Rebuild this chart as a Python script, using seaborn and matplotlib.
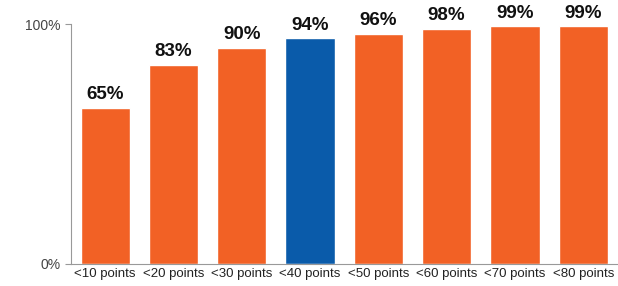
import matplotlib
matplotlib.use("Agg")
import matplotlib.pyplot as plt
import numpy as np
import pandas as pd
import seaborn as sns

categories = ["<10 points", "<20 points", "<30 points", "<40 points",
              "<50 points", "<60 points", "<70 points", "<80 points"]
shares = [65, 83, 90, 94, 96, 98, 99, 99]
highlight = "<40 points"

ORANGE = "#F26125"
BLUE = "#0A5BAA"

sns.set_theme(style="white")
plt.rcParams["font.family"] = ["Liberation Sans", "DejaVu Sans"]

df = pd.DataFrame({"category": categories, "share": shares})
palette = {c: (BLUE if c == highlight else ORANGE) for c in categories}

fig = plt.figure(figsize=(6.18, 2.86), dpi=100)
ax = fig.add_axes([0.115, 0.077, 0.884, 0.839])

sns.barplot(data=df, x="category", y="share", hue="category",
            palette=palette, width=0.72, saturation=1, legend=False, ax=ax)

# value labels above each bar
for i, v in enumerate(shares):
    ax.text(i, v + 5.5, f"{v}%", ha="center", va="center",
            fontsize=13.5, fontweight="bold", color="#111111", clip_on=False)

ax.set_xlim(-0.5, len(categories) - 0.5)
ax.set_ylim(0, 100)
ax.set_yticks([0, 100])
ax.set_yticklabels(["0%", "100%"])
ax.set_xlabel("")
ax.set_ylabel("")

ax.set_xticks(np.arange(-0.5, len(categories) + 0.5, 1), minor=True)
ax.tick_params(axis="x", which="major", length=0, pad=3, labelsize=9.5, colors="#222222")
ax.tick_params(axis="x", which="minor", length=4, width=0.8, color="#999999", direction="out")
ax.tick_params(axis="y", length=4, width=0.8, color="#999999", labelsize=10,
               labelcolor="#444444", direction="out", left=True)

for side in ["top", "right"]:
    ax.spines[side].set_visible(False)
for side in ["left", "bottom"]:
    ax.spines[side].set_color("#999999")
    ax.spines[side].set_linewidth(0.8)

fig.savefig("out.png", dpi=100)
